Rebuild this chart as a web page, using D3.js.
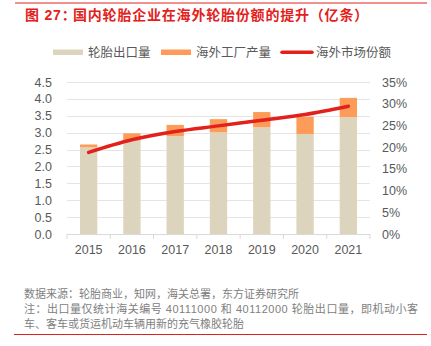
<!DOCTYPE html>
<html>
<head>
<meta charset="utf-8">
<script src="https://cdn.jsdelivr.net/npm/d3@7"></script>
<style>
  body { margin: 0; background: #fff; }
  text { font-family: "Liberation Sans", "Noto Sans CJK SC", sans-serif; }
</style>
</head>
<body>
<div id="chart"></div>
<script>
// data
var years = ["2015", "2016", "2017", "2018", "2019", "2020", "2021"];
var exportVol = [2.57, 2.76, 2.90, 3.01, 3.16, 2.96, 3.46];     // 轮胎出口量
var overseasProd = [0.08, 0.22, 0.33, 0.39, 0.45, 0.51, 0.57];  // 海外工厂产量
var marketShare = [0.188, 0.217, 0.236, 0.249, 0.262, 0.275, 0.294]; // 海外市场份额
var leftTicks = [0, 0.5, 1, 1.5, 2, 2.5, 3, 3.5, 4, 4.5];
var rightTicks = [0, 0.05, 0.1, 0.15, 0.2, 0.25, 0.3, 0.35];

var svgWidth = 431;
var svgHeight = 346;

var plot = { left: 67, right: 370, top: 82, bottom: 234 };

var svg = d3.select("#chart")
  .append("svg")
  .attr("width", svgWidth)
  .attr("height", svgHeight);

// top and bottom red rules
svg.append("line").attr("x1", 15).attr("x2", 427).attr("y1", 3).attr("y2", 3)
  .attr("stroke", "#e3211c").attr("stroke-width", 1);
svg.append("line").attr("x1", 14).attr("x2", 427).attr("y1", 334.5).attr("y2", 334.5)
  .attr("stroke", "#e3211c").attr("stroke-width", 1);

// title
var title = svg.append("text")
  .attr("y", 19.5)
  .attr("fill", "#e3211c")
  .attr("font-size", "14px")
  .attr("font-weight", "bold")
  .attr("letter-spacing", "0.8px");
title.append("tspan").attr("x", 25).text("图 27：");
title.append("tspan").attr("x", 73).text("国内轮胎企业在海外轮胎份额的提升（亿条）");

// scales
var xScale = d3.scaleBand()
  .domain(years)
  .range([plot.left, plot.right])
  .paddingInner(0.6)
  .paddingOuter(0.3);

var yLeft = d3.scaleLinear().domain([0, 4.5]).range([plot.bottom, plot.top]);
var yRight = d3.scaleLinear().domain([0, 0.35]).range([plot.bottom, plot.top]);

// gridlines
svg.append("g")
  .selectAll("line")
  .data(leftTicks.slice(1))
  .enter()
  .append("line")
  .attr("x1", plot.left)
  .attr("x2", plot.right)
  .attr("y1", d => Math.round(yLeft(d)) + 0.5)
  .attr("y2", d => Math.round(yLeft(d)) + 0.5)
  .attr("stroke", "#e4e4e4")
  .attr("stroke-width", 1.2);

// left axis
var leftAxis = svg.append("g")
  .attr("transform", `translate(${plot.left - 15}, 0)`)
  .call(d3.axisLeft(yLeft).tickValues(leftTicks).tickFormat(d3.format(".1f")).tickSize(0).tickPadding(0));
leftAxis.select(".domain").remove();
leftAxis.selectAll("text")
  .attr("fill", "#595959")
  .attr("font-size", "12.5px")
  .style("font-family", "'Liberation Sans', sans-serif");

// right axis
var rightAxis = svg.append("g")
  .attr("transform", `translate(${plot.right + 12}, 0)`)
  .call(d3.axisRight(yRight).tickValues(rightTicks).tickFormat(d3.format(".0%")).tickSize(0).tickPadding(0));
rightAxis.select(".domain").remove();
rightAxis.selectAll("text")
  .attr("fill", "#595959")
  .attr("font-size", "12.5px")
  .style("font-family", "'Liberation Sans', sans-serif");

// bars: export volume (beige), overseas production stacked on top (orange)
var barGroup = svg.append("g");
barGroup.selectAll(".exportBar")
  .data(years)
  .enter()
  .append("rect")
  .attr("x", d => xScale(d))
  .attr("width", xScale.bandwidth())
  .attr("y", (d, i) => yLeft(exportVol[i]))
  .attr("height", (d, i) => yLeft(0) - yLeft(exportVol[i]))
  .attr("fill", "#ddd4be");

barGroup.selectAll(".prodBar")
  .data(years)
  .enter()
  .append("rect")
  .attr("x", d => xScale(d))
  .attr("width", xScale.bandwidth())
  .attr("y", (d, i) => yLeft(exportVol[i] + overseasProd[i]))
  .attr("height", (d, i) => yLeft(exportVol[i]) - yLeft(exportVol[i] + overseasProd[i]))
  .attr("fill", "#fd9c58");

// x axis line + ticks at band edges
var step = xScale.step();
svg.append("line")
  .attr("x1", plot.left).attr("x2", plot.right)
  .attr("y1", plot.bottom + 0.5).attr("y2", plot.bottom + 0.5)
  .attr("stroke", "#d9d9d9").attr("stroke-width", 1);
svg.append("g")
  .selectAll("line")
  .data(d3.range(years.length + 1))
  .enter()
  .append("line")
  .attr("x1", i => plot.left + i * step)
  .attr("x2", i => plot.left + i * step)
  .attr("y1", plot.bottom)
  .attr("y2", plot.bottom + 5)
  .attr("stroke", "#d9d9d9");

svg.append("g")
  .selectAll("text")
  .data(years)
  .enter()
  .append("text")
  .attr("x", d => xScale(d) + xScale.bandwidth() / 2)
  .attr("y", 253.5)
  .attr("text-anchor", "middle")
  .attr("fill", "#595959")
  .attr("font-size", "12.5px")
  .text(d => d);

// market share line
var line = d3.line()
  .x((d, i) => xScale(years[i]) + xScale.bandwidth() / 2)
  .y(d => yRight(d))
  .curve(d3.curveMonotoneX);

svg.append("path")
  .datum(marketShare)
  .attr("d", line)
  .attr("fill", "none")
  .attr("stroke", "#e3211c")
  .attr("stroke-width", 3.5)
  .attr("stroke-linecap", "round");

// legend
var legendItems = [
  { label: "轮胎出口量", color: "#ddd4be", x: 53, type: "bar" },
  { label: "海外工厂产量", color: "#fd9c58", x: 161, type: "bar" },
  { label: "海外市场份额", color: "#e3211c", x: 281, type: "line" }
];
var legend = svg.append("g");
legendItems.forEach(function (item) {
  if (item.type === "bar") {
    legend.append("rect")
      .attr("x", item.x).attr("y", 49.5)
      .attr("width", 30).attr("height", 5.5)
      .attr("fill", item.color);
  } else {
    legend.append("line")
      .attr("x1", item.x + 1).attr("x2", item.x + 31)
      .attr("y1", 52.3).attr("y2", 52.3)
      .attr("stroke", item.color).attr("stroke-width", 3.5)
      .attr("stroke-linecap", "round");
  }
  legend.append("text")
    .attr("x", item.x + 35)
    .attr("y", 57)
    .attr("fill", "#595959")
    .attr("font-size", "12.5px")
    .text(item.label);
});

// source notes (middle line is justified in the original)
var notes = [
  "数据来源：轮胎商业，知网，海关总署，东方证券研究所",
  "注：出口量仅统计海关编号 40111000 和 40112000 轮胎出口量，即机动小客",
  "车、客车或货运机动车辆用新的充气橡胶轮胎"
];
svg.append("g")
  .selectAll("text")
  .data(notes)
  .enter()
  .append("text")
  .attr("x", 24)
  .attr("y", (d, i) => 297.5 + i * 15)
  .attr("fill", "#808080")
  .attr("font-size", "11px")
  .each(function (d, i) {
    if (i === 1) {
      d3.select(this).attr("textLength", 394).attr("lengthAdjust", "spacing");
    }
  })
  .text(d => d);
</script>
</body>
</html>
